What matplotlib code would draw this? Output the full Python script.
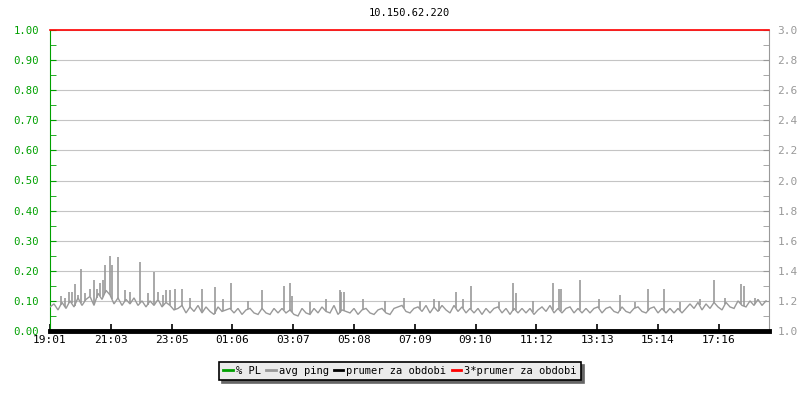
import numpy as np
import matplotlib
matplotlib.use("Agg")
import matplotlib.pyplot as plt
from matplotlib.lines import Line2D

title = "10.150.62.220"
time_labels = ["19:01", "21:03", "23:05", "01:06", "03:07", "05:08",
               "07:09", "09:10", "11:12", "13:13", "15:14", "17:16"]
tick_step = 121.6          # minutes between the time labels
span = 1438                # minutes shown

# avg ping (right axis), one reading every 8 minutes from 19:01
ping = [
    1.16, 1.18, 1.14, 1.19, 1.15, 1.20, 1.16, 1.22, 1.17, 1.21, 1.23, 1.17, 1.25, 1.21, 1.27,
    1.24, 1.18, 1.22, 1.17, 1.21, 1.18, 1.22, 1.17, 1.20, 1.16, 1.20, 1.17, 1.21, 1.16, 1.19,
    1.17, 1.14, 1.15, 1.17, 1.12, 1.16, 1.13, 1.17, 1.12, 1.16, 1.13, 1.11, 1.16, 1.13, 1.14,
    1.15, 1.12, 1.15, 1.11, 1.14, 1.15, 1.12, 1.11, 1.15, 1.12, 1.11, 1.15, 1.12, 1.15, 1.12,
    1.14, 1.11, 1.10, 1.15, 1.12, 1.11, 1.15, 1.12, 1.16, 1.13, 1.12, 1.17, 1.11, 1.14, 1.13,
    1.12, 1.15, 1.11, 1.14, 1.15, 1.12, 1.11, 1.14, 1.15, 1.12, 1.11, 1.15, 1.16, 1.17, 1.13,
    1.12, 1.15, 1.16, 1.13, 1.17, 1.12, 1.16, 1.13, 1.17, 1.14, 1.12, 1.17, 1.13, 1.16, 1.12,
    1.15, 1.12, 1.15, 1.11, 1.15, 1.12, 1.15, 1.16, 1.12, 1.15, 1.11, 1.15, 1.12, 1.15, 1.12,
    1.15, 1.11, 1.14, 1.16, 1.13, 1.17, 1.12, 1.15, 1.12, 1.15, 1.16, 1.12, 1.15, 1.12, 1.15,
    1.12, 1.15, 1.16, 1.12, 1.15, 1.16, 1.13, 1.12, 1.16, 1.13, 1.12, 1.15, 1.16, 1.13, 1.12,
    1.15, 1.16, 1.12, 1.15, 1.12, 1.15, 1.12, 1.15, 1.12, 1.15, 1.18, 1.15, 1.19, 1.14, 1.18,
    1.15, 1.19, 1.16, 1.14, 1.19, 1.16, 1.15, 1.20, 1.17, 1.16, 1.20, 1.17, 1.21, 1.17, 1.20,
]
ping_step = 8

# short ping peaks: minutes after 19:01 and peak value
spike_t = [21, 30, 38, 43, 49, 55, 61, 70, 80, 87, 93, 100, 106, 110, 120, 124, 135, 150,
           160, 180, 195, 207, 216, 225, 232, 239, 249, 263, 280, 303, 329, 345, 361, 395,
           423, 467, 480, 484, 520, 551, 579, 582, 588, 625, 670, 708, 740, 767, 777, 811,
           825, 841, 897, 925, 931, 965, 1005, 1017, 1021, 1059, 1097, 1139, 1170, 1195,
           1228, 1260, 1299, 1327, 1350, 1382, 1387, 1410]
spike_v = [1.23, 1.22, 1.26, 1.26, 1.31, 1.24, 1.41, 1.25, 1.28, 1.34, 1.28, 1.32, 1.34,
           1.44, 1.50, 1.44, 1.49, 1.27, 1.26, 1.46, 1.25, 1.39, 1.26, 1.24, 1.27, 1.27,
           1.28, 1.28, 1.22, 1.28, 1.29, 1.21, 1.32, 1.20, 1.27, 1.30, 1.32, 1.23, 1.19,
           1.21, 1.27, 1.26, 1.26, 1.21, 1.20, 1.22, 1.20, 1.21, 1.20, 1.26, 1.21, 1.30,
           1.19, 1.32, 1.25, 1.20, 1.32, 1.28, 1.28, 1.34, 1.21, 1.24, 1.19, 1.28, 1.28,
           1.19, 1.21, 1.34, 1.22, 1.31, 1.30, 1.22]

prumer = 1.0               # period average (right axis)
pl_max = 1.0

green = "#00a000"
grey = "#999999"

fig = plt.figure(figsize=(8, 4), dpi=100)
ax = fig.add_axes([50 / 800, 69 / 400, 719 / 800, 301 / 400])
ax2 = ax.twinx()

mono = "DejaVu Sans Mono"
fs = 7.2

# left axis: % PL
ax.set_xlim(0, span)
ax.set_ylim(0, pl_max)
ax.set_yticks(np.arange(0, 1.01, 0.1))
ax.set_yticks(np.arange(0.05, 1.0, 0.1), minor=True)
ax.set_yticklabels(["%.2f" % v for v in np.arange(0, 1.01, 0.1)],
                   color=green, family=mono, fontsize=fs + 0.5)
ax.tick_params(axis="y", which="both", direction="in", length=4, color=green, pad=8)
ax.grid(axis="y", color="#c4c4c4", lw=0.8)
ax.set_axisbelow(True)

ax.set_xticks(np.arange(len(time_labels)) * tick_step)
ax.set_xticklabels(time_labels, family=mono, fontsize=fs + 0.8)
ax.tick_params(axis="x", direction="in", length=5, width=1.2, color="black", pad=3)

for s in ["top", "bottom", "right"]:
    ax.spines[s].set_visible(False)
ax.spines["left"].set_color(green)

# right axis: avg ping
ax2.set_ylim(1.0, 3.0)
ax2.set_yticks(np.arange(1.0, 3.01, 0.2))
ax2.set_yticks(np.arange(1.1, 3.0, 0.2), minor=True)
ax2.set_yticklabels(["%.1f" % v for v in np.arange(1.0, 3.01, 0.2)],
                    color=grey, family=mono, fontsize=fs + 0.8)
ax2.tick_params(axis="y", which="both", direction="in", length=4, color=grey, pad=6)
for s in ["top", "bottom", "left"]:
    ax2.spines[s].set_visible(False)
ax2.spines["right"].set_color(grey)

t = np.arange(len(ping)) * ping_step
ax2.plot(t, ping, color=grey, lw=1, solid_joinstyle="miter")
base_at_spike = np.interp(spike_t, t, ping)
ax2.vlines(spike_t, base_at_spike, spike_v, color=grey, lw=1.2)

ax2.axhline(prumer, color="black", lw=3.5, clip_on=False, zorder=5)
ax2.axhline(3 * prumer, color="red", lw=1.2, clip_on=False, zorder=5)

fig.text(409 / 800, 1 - 13 / 400, title, ha="center", va="center",
         family=mono, fontsize=fs + 0.3)

handles = [Line2D([], [], color=c, lw=2) for c in [green, grey, "black", "red"]]
labels = ["% PL", "avg ping", "prumer za obdobi", "3*prumer za obdobi"]
leg = fig.legend(handles, labels, loc="center", bbox_to_anchor=(400 / 800, 1 - 371 / 400),
                 ncol=4, fancybox=False, shadow={"color": "#666666", "alpha": 1},
                 edgecolor="black", facecolor="#ebebeb", framealpha=1,
                 handlelength=0.9, handletextpad=0.3, columnspacing=0.5,
                 borderpad=0.4, prop={"family": mono, "size": fs + 0.3})
leg.get_frame().set_linewidth(1.2)

fig.savefig("out.png", dpi=100)
